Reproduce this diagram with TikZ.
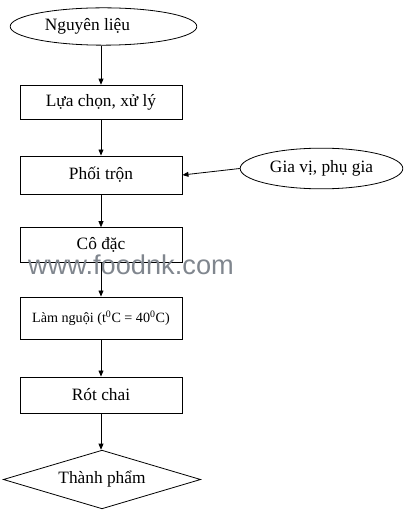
\documentclass[tikz,border=0pt]{standalone}
\usepackage{fontspec}
\setmainfont{Liberation Serif}
\newfontfamily\markfont{Liberation Sans}
\usetikzlibrary{arrows.meta, shapes.geometric}
\definecolor{markgray}{RGB}{128,134,142}

\begin{document}
\begin{tikzpicture}[x=0.75pt, y=-0.75pt, >={Triangle[length=1.6mm, width=1.3mm]},
  every node/.style={font=\fontsize{13}{15}\selectfont},
  stepbox/.style={draw, line width=0.6pt, minimum width=121.5pt, inner sep=0pt},
  endcap/.style={draw, ellipse, line width=0.6pt, inner sep=0pt},
  outcome/.style={draw, diamond, aspect=3.36, line width=0.6pt, inner sep=0pt, minimum width=148pt, minimum height=44pt},
  flow/.style={->, line width=0.6pt}]
  \useasboundingbox (0,0) rectangle (406,513);
  \node[endcap, minimum width=140pt, minimum height=28pt] (nguyenlieu) at (103.5,26.5) {Nguyên liệu\hspace*{24pt}};
  \node[stepbox, minimum height=26pt] (luachon) at (101,102.5) {Lựa chọn, xử lý};
  \node[stepbox, minimum height=28.5pt] (phoitron) at (101,175) {Phối trộn};
  \node[endcap, minimum width=122pt, minimum height=30.5pt] (giavi) at (321.5,168.5) {Gia vị, phụ gia};
  \node[stepbox, minimum height=26pt] (codac) at (101,245) {Cô đặc};
  \node[stepbox, minimum height=31.5pt, font=\fontsize{10.6}{12}\selectfont] (lamnguoi) at (101,318) {Làm nguội (t\textsuperscript{0}C = 40\textsuperscript{0}C)};
  \node[stepbox, minimum height=27pt] (rotchai) at (101,395) {Rót chai};
  \node[outcome] (thanhpham) at (102,479.5) {Thành phẩm};
  % watermark
  \node[font=\markfont\fontsize{20.4}{22}\selectfont, text=markgray] (mark) at (131,265) {www.foodnk.com};
  \draw[flow] (nguyenlieu.south -| luachon.north) -- (luachon.north);
  \draw[flow] (luachon) -- (phoitron);
  \draw[flow] (giavi.west) -- (phoitron.east);
  \draw[flow] (phoitron) -- (codac);
  \draw[flow] (codac) -- (lamnguoi);
  \draw[flow] (lamnguoi) -- (rotchai);
  \draw[flow] (rotchai.south) -- (rotchai.south |- thanhpham.north);
\end{tikzpicture}
\end{document}
